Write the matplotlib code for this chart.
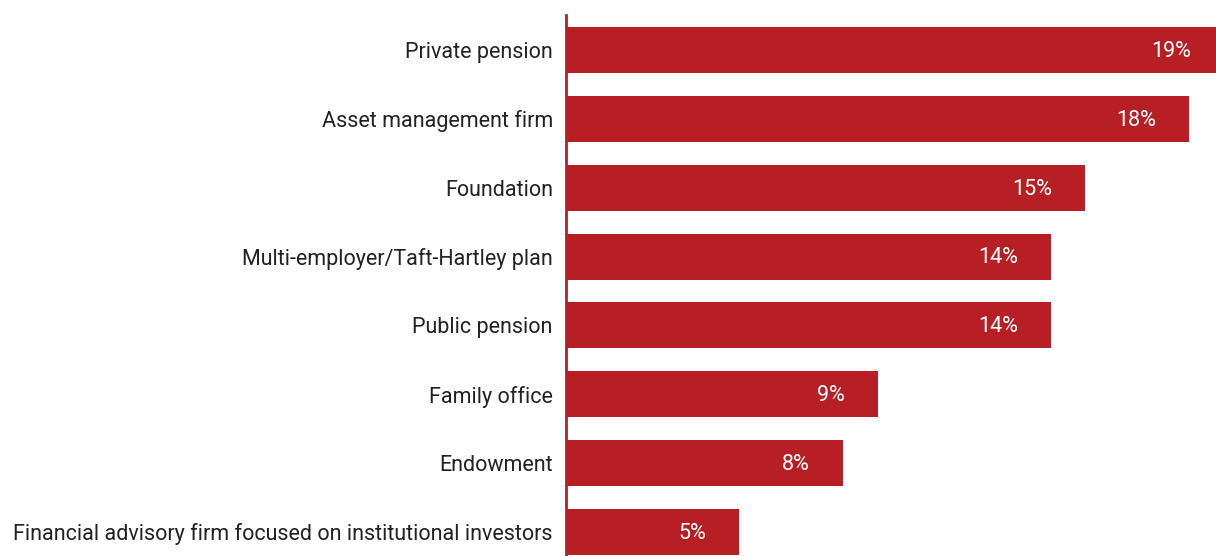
import matplotlib.pyplot as plt
import matplotlib.transforms as mtransforms
import numpy as np

# investor types and share of respondents (%)
categories = [
    'Private pension',
    'Asset management firm',
    'Foundation',
    'Multi-employer/Taft-Hartley plan',
    'Public pension',
    'Family office',
    'Endowment',
    'Financial advisory firm focused on institutional investors',
]
values = [19, 18, 15, 14, 14, 9, 8, 5]

red = '#B81F24'
plt.rcParams['font.family'] = ['Roboto', 'DejaVu Sans']

fig = plt.figure(figsize=(12.16, 5.56), dpi=100)
ax = fig.add_axes([566 / 1216, 0, 650 / 1216, 541 / 556])

y = np.arange(len(categories))
ax.barh(y, values, height=0.67, color=red, left=0)

for yi, v in zip(y, values):
    ax.text(v - 0.95, yi + 0.02, f'{v}%', ha='right', va='center',
            color='white', fontsize=15.5)

ax.set_xlim(0, 18.78)
ax.set_ylim(7.35, -0.51)
ax.set_yticks(y)
ax.set_yticklabels(categories, fontsize=15.5, color='#222222')
# nudge the category names down a touch
shift = mtransforms.ScaledTranslation(0, -2 / 100, fig.dpi_scale_trans)
for lbl in ax.get_yticklabels():
    lbl.set_transform(lbl.get_transform() + shift)
ax.tick_params(axis='y', length=0, pad=9.5)
ax.set_xticks([])
for s in ['top', 'right', 'bottom']:
    ax.spines[s].set_visible(False)
ax.spines['left'].set_color(red)
ax.spines['left'].set_linewidth(2)

fig.savefig('out.png', dpi=100)
